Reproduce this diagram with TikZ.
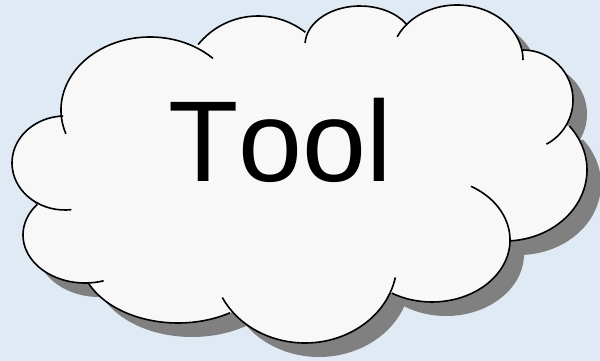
\documentclass[tikz,border=0pt]{standalone}
\usepackage{fontspec}
\setmainfont{Liberation Sans}[Kerning=Off]
\definecolor{skyback}{RGB}{224,234,245}
\definecolor{puffwhite}{RGB}{248,248,248}
\definecolor{puffshade}{RGB}{128,128,128}
\tikzset{
  cloudbody/.style={fill=puffwhite},
  cloudshadow/.style={fill=puffshade},
  cloudedge/.style={draw=black, line width=1.6pt},
  bigword/.style={font=\fontsize{115}{120}\selectfont, inner sep=0pt, anchor=base}
}
% one lobe: centre x, centre y, x radius, y radius, from, to
\newcommand{\puffarc}[6]{([shift={(#1,#2)}]#5:#3 and #4) arc[start angle=#5, end angle=#6, x radius=#3, y radius=#4]}
\newcommand{\puff}[6]{-- \puffarc{#1}{#2}{#3}{#4}{#5}{#6}}
\newcommand{\cloudpath}{(38,205)
  \puff{65}{163}{53}{47}{119.7}{268}
  \puff{150}{110}{89}{73}{172}{300}
  \puff{258}{93}{77}{77}{219}{308}
  \puff{360}{45}{55}{39}{199.5}{327.5}
  \puff{457}{60}{66}{55}{221}{350}
  \puff{523}{100}{50}{50}{270}{391}
  \puff{505}{170}{82}{71}{321.7}{446.5}
  \puff{432}{240}{78}{62}{361}{481}
  \puff{305}{262}{92}{81}{22}{142}
  \puff{178}{256}{98}{67}{58}{157}
  \puff{85}{235}{62}{48}{87}{219.5}
  -- cycle}

\begin{document}
\begin{tikzpicture}[x=1pt, y=-1pt]
  \useasboundingbox (0,0) rectangle (600,361);
  \clip (0,0) rectangle (600,361);
  \fill[skyback] (0,0) rectangle (600,361);
  % shadow, then the cloud
  \fill[cloudshadow, shift={(14,14)}] \cloudpath;
  \fill[cloudbody] \cloudpath;
  \foreach \cx/\cy/\rx/\ry/\ta/\tb in {65/163/53/47/83/268, 150/110/89/73/161/315,
      258/93/77/77/219/308, 360/45/55/39/183/327.5, 457/60/66/55/205/360,
      523/100/50/50/270/422, 505/170/82/71/321.7/446.5, 432/240/78/62/300/481,
      305/262/92/81/11/154, 178/256/98/67/58/157, 85/235/62/48/72.5/219.5}
    \draw[cloudedge] \puffarc{\cx}{\cy}{\rx}{\ry}{\ta}{\tb};
  \node[bigword] (word) at (280,181.7) {Tool};
\end{tikzpicture}
\end{document}
